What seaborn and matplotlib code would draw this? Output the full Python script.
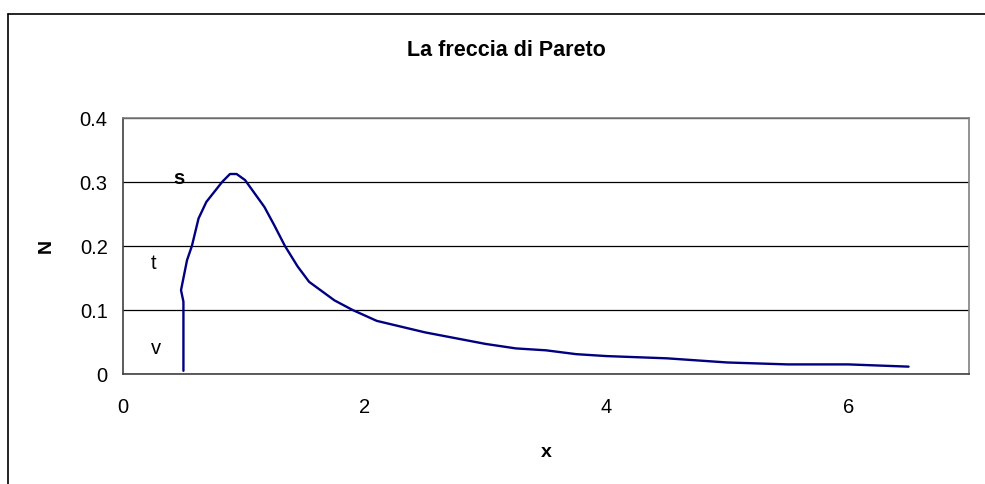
import matplotlib
matplotlib.use("Agg")
import matplotlib.pyplot as plt
from matplotlib.lines import Line2D
import seaborn as sns
import pandas as pd

# Curve of the Pareto arrow: x and N
x_vals = [0.5, 0.5, 0.48, 0.53, 0.57, 0.625, 0.69, 0.82, 0.885, 0.94, 1.01,
          1.17, 1.25, 1.34, 1.445, 1.54, 1.75, 1.90, 2.1, 2.5, 3.0, 3.25,
          3.5, 3.75, 4.0, 4.5, 5.0, 5.5, 6.0, 6.5]
n_vals = [0.005, 0.113, 0.131, 0.178, 0.20, 0.243, 0.269, 0.30, 0.3125, 0.3125,
          0.303, 0.261, 0.233, 0.20, 0.168, 0.144, 0.115, 0.10, 0.083, 0.065,
          0.047, 0.040, 0.037, 0.031, 0.028, 0.0245, 0.018, 0.015, 0.015, 0.0115]

# Zone labels along the rising branch
zone_labels = ["s", "t", "v"]
zone_x = [0.465, 0.25, 0.27]
zone_y = [0.306, 0.172, 0.040]
zone_bold = [True, False, False]

x_ticks = [0, 2, 4, 6]
y_ticks = [0, 0.1, 0.2, 0.3, 0.4]
y_tick_labels = ["0", "0.1", "0.2", "0.3", "0.4"]

sns.set_style("white")
plt.rcParams["font.family"] = ["Liberation Sans", "DejaVu Sans"]
plt.rcParams["text.color"] = "black"
plt.rcParams["axes.labelcolor"] = "black"
plt.rcParams["xtick.color"] = "black"
plt.rcParams["ytick.color"] = "black"

df = pd.DataFrame({"x": x_vals, "N": n_vals})

fig = plt.figure(figsize=(9.85, 4.84), dpi=100)
ax = fig.add_axes([123 / 985, 1 - 374 / 484, (969 - 123) / 985, (374 - 118) / 484])

sns.lineplot(data=df, x="x", y="N", sort=False, estimator=None,
             color="#000080", linewidth=1.7, ax=ax)

ax.set_xlim(0, 7)
ax.set_ylim(0, 0.4)
ax.set_xticks(x_ticks)
ax.set_xticklabels([str(t) for t in x_ticks])
ax.set_yticks(y_ticks)
ax.set_yticklabels(y_tick_labels)

ax.yaxis.grid(True, color="black", linewidth=0.9)
ax.xaxis.grid(False)
ax.set_axisbelow(True)

for side in ["top", "right"]:
    ax.spines[side].set_visible(True)
    ax.spines[side].set_color("#808080")
    ax.spines[side].set_linewidth(1.2)
for side in ["left", "bottom"]:
    ax.spines[side].set_color("#404040")
    ax.spines[side].set_linewidth(1.2)

ax.tick_params(axis="both", which="major", direction="out", length=5,
               width=1, color="#404040", labelcolor="black", labelsize=14.5, pad=6)
ax.tick_params(axis="x", pad=12)

ax.set_xlabel("x", fontsize=14, fontweight="bold", labelpad=20, color="black")
ax.set_ylabel("N", fontsize=14, fontweight="bold", labelpad=18, color="black")

for lab, tx, ty, b in zip(zone_labels, zone_x, zone_y, zone_bold):
    ax.text(tx, ty, lab, fontsize=14.5, color="black",
            fontweight="bold" if b else "normal",
            ha="center", va="center")

fig.text(506 / 985, 1 - 50 / 484, "La freccia di Pareto", fontsize=15.5,
         fontweight="bold", ha="center", va="center", color="black")

# Chart area border (left and top edges visible)
fig.add_artist(Line2D([8 / 985, 8 / 985], [0, 1 - 14 / 484],
                      transform=fig.transFigure, color="black", linewidth=1.2))
fig.add_artist(Line2D([8 / 985, 1], [1 - 14 / 484, 1 - 14 / 484],
                      transform=fig.transFigure, color="black", linewidth=1.2))

fig.savefig("out.png", dpi=100)
